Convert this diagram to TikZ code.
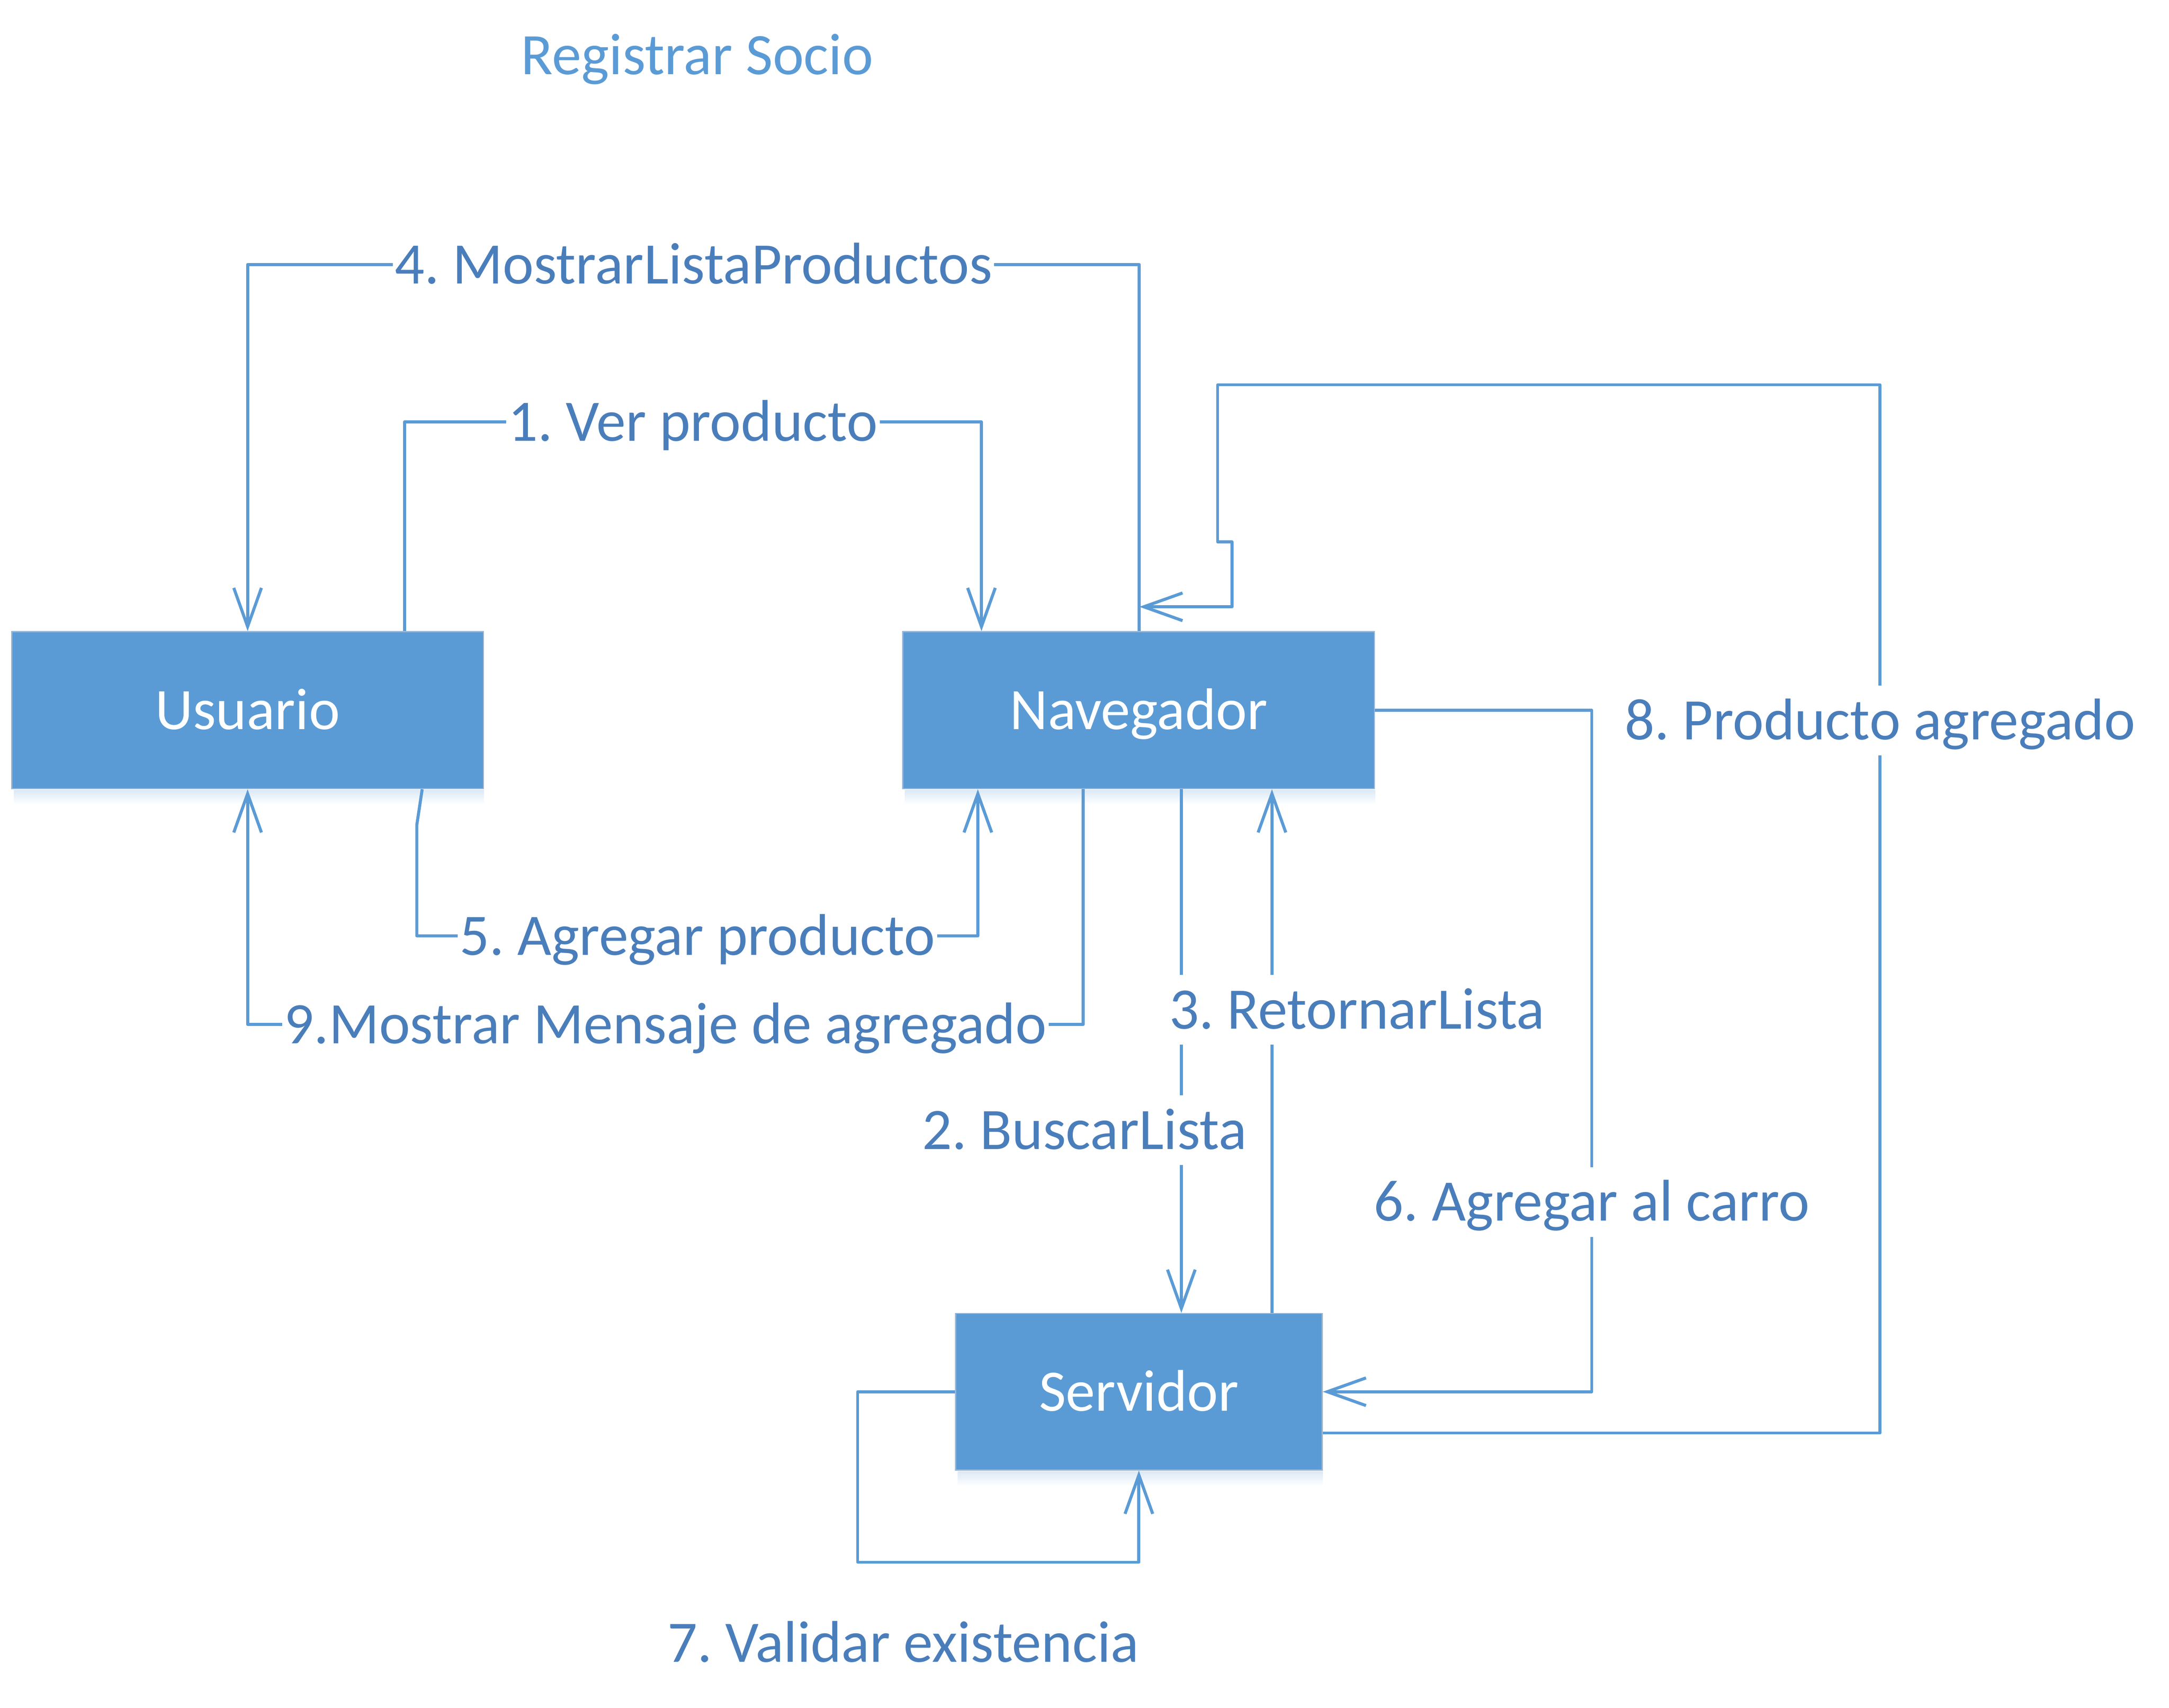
\documentclass[tikz,border=0pt]{standalone}
\usepackage{fontspec}
\setmainfont{Carlito}
\frenchspacing
\usetikzlibrary{arrows.meta,calc}
\definecolor{boxblue}{HTML}{5B9BD5}
\definecolor{lineblue}{HTML}{5B9BD5}
\definecolor{labelblue}{HTML}{4A7EBB}
\definecolor{boxedge}{HTML}{9DB6D2}
\begin{document}
\frenchspacing
\begin{tikzpicture}[x=1pt,y=-1pt,
  actor/.style={rectangle, fill=boxblue, draw=boxedge, line width=0.8pt, text=white,
    font=\fontsize{42.5}{51}\selectfont, inner sep=0pt, text height=36pt, text depth=8.5pt},
  msg/.style={fill=white, text=labelblue, font=\fontsize{42.5}{51}\selectfont,
    inner xsep=1.5pt, inner ysep=3pt, text height=36pt, text depth=8.5pt},
  conn/.style={draw=lineblue, line width=2.2pt, line join=round},
  arr/.style={-{Straight Barb[length=28pt,width=20pt]}},
  boxshade/.style={top color=boxblue!22, bottom color=white, draw=none}
]
\useasboundingbox (0,0) rectangle (1568,1234.8);

% title
\node[msg, text=boxblue] (title) at (504,40) {Registrar Socio};

% actors
\node[actor, minimum width=341pt, minimum height=113.5pt] (usu) at (179,513.45) {Usuario};
\node[actor, minimum width=341pt, minimum height=113.5pt] (nav) at (823.15,513.45) {Navegador};
\node[actor, minimum width=265pt, minimum height=113.2pt] (serv) at (823.3,1006.2) {Servidor};

% soft shadows
\shade[boxshade] ($(usu.south west)+(2,0.6)$) rectangle ($(usu.south east)+(0,11)$);
\shade[boxshade] ($(nav.south west)+(2,0.6)$) rectangle ($(nav.south east)+(0,11)$);
\shade[boxshade] ($(serv.south west)+(2,0.6)$) rectangle ($(serv.south east)+(0,11)$);

% 1. Ver producto
\draw[conn,arr] (usu.north -| 292.4,0) -- (292.4,305) -- node[msg]{1. Ver producto} (709.5,305) -- (nav.north -| 709.5,0);
% 4. MostrarListaProductos
\draw[conn,arr] (nav.north -| 823.6,0) -- (823.6,191.2) -- node[msg]{4. MostrarListaProductos} (179,191.2) -- (usu.north);
% 8. Producto agregado
\coordinate (p8end) at (823.6,438.7);
\draw[conn,arr] (serv.east |- 0,1036) -- (1359.1,1036) -- (1359.1,521) node[msg]{8. Producto agregado} -- (1359.1,278.2) -- (880.2,278.2) -- (880.2,391.8) -- (890.6,391.8) -- (890.6,438.7) -- (p8end);
% 6. Agregar al carro
\draw[conn,arr] (nav.east) -- (1150.7,513.45) -- (1150.7,869) node[msg]{6. Agregar al carro} -- (1150.7,1006.2) -- (serv.east);
% 2. BuscarLista
\draw[conn,arr] (nav.south -| 854,0) -- (serv.north -| 854,0);
% 3. RetornarLista
\draw[conn,arr] (serv.north -| 919.5,0) -- (nav.south -| 919.5,0);
% 5. Agregar producto
\draw[conn,arr] (usu.south -| 305.2,0) -- (301.3,596.5) -- (301.3,676.6) -- node[msg]{5. Agregar producto} (706.9,676.6) -- (nav.south -| 706.9,0);
% 9. Mostrar Mensaje de agregado
\draw[conn,arr] (nav.south -| 783,0) -- (783,740.7) -- node[msg]{9.Mostrar Mensaje de agregado} (179,740.7) -- (usu.south);
% 7. Validar existencia
\draw[conn,arr] (serv.west) -- (620,1006.2) -- (620,1129.5) -- (823.3,1129.5) -- (serv.south);

% free labels
\node[msg] (l3) at (981,730) {3. RetornarLista};
\node[msg] (l2) at (784,817) {2. BuscarLista};
\node[msg] (l7) at (653,1188) {7. Validar existencia};
\end{tikzpicture}
\end{document}
